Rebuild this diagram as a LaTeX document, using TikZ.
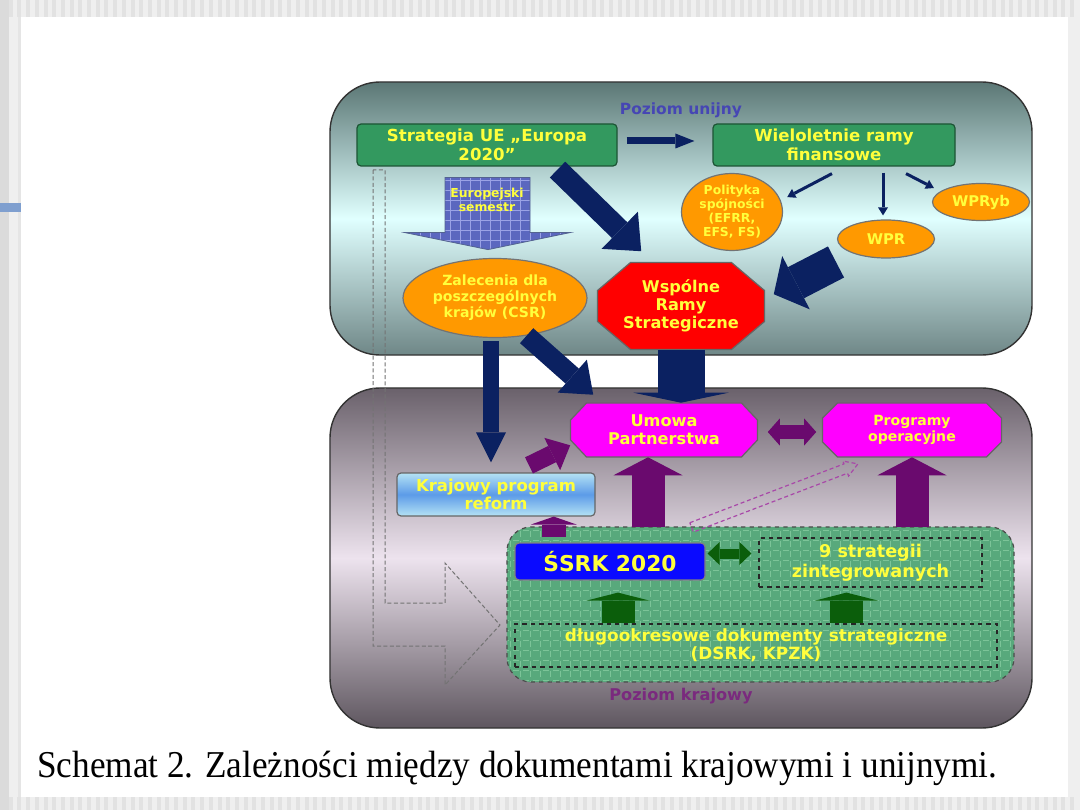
\documentclass[tikz,border=0pt]{standalone}
\usepackage{fontspec}
\setsansfont{DejaVu Sans}
\newfontfamily\capfont{Liberation Serif}
\usepackage{graphicx}
\usepackage{tikz}
\usetikzlibrary{arrows.meta,positioning,shapes.geometric,calc,patterns.meta}
\usepackage{xcolor}
\definecolor{NavyArr}{HTML}{0B2161}
\definecolor{PurpArr}{HTML}{6A0A6E}
\definecolor{PtrPurple}{HTML}{A848A8}
\definecolor{GreenArr}{HTML}{0B5E0B}
\definecolor{BoxGreen}{HTML}{33995F}
\definecolor{TxtYellow}{HTML}{FFFF3C}
\definecolor{FundOrange}{HTML}{FF9900}
\definecolor{CsfRed}{HTML}{FF0000}
\definecolor{PaMagenta}{HTML}{FF00FF}
\definecolor{SrkBlue}{HTML}{0A0AFF}
\definecolor{UniTop}{HTML}{5B7775}
\definecolor{UniMid}{HTML}{E0FFFF}
\definecolor{UniBot}{HTML}{6F8787}
\definecolor{NatTop}{HTML}{6A616B}
\definecolor{NatMid}{HTML}{EDE3EE}
\definecolor{NatBot}{HTML}{5E565F}
\definecolor{GridGreen}{HTML}{58A97C}
\definecolor{GridGreenLn}{HTML}{7CC498}
\definecolor{SemBlue}{HTML}{5B67BF}
\definecolor{SemBlueLn}{HTML}{9AA2E6}
\definecolor{KprTop}{HTML}{B4E2F4}
\definecolor{KprMid}{HTML}{5C9BE8}
\definecolor{LblBlue}{HTML}{4646B4}
\definecolor{LblPurple}{HTML}{7A2A7E}
\definecolor{PageGray}{HTML}{EFEFEF}
\definecolor{StripeGray}{HTML}{E2E2E2}
\definecolor{SideBlue}{HTML}{7F9FCF}
\newcommand{\dsz}[2]{\sffamily\bfseries\fontsize{#1}{#2}\selectfont}
% octagon round a centre: centre, half width, half height, cut x, cut y, fill
\newcommand{\octa}[6]{%
  \filldraw[fill=#6,draw=black!60,line width=0.3mm]
    ($(#1)+(-#2+#4,-#3)$) -- ($(#1)+(#2-#4,-#3)$) -- ($(#1)+(#2,-#3+#5)$)
    -- ($(#1)+(#2,#3-#5)$) -- ($(#1)+(#2-#4,#3)$) -- ($(#1)+(-#2+#4,#3)$)
    -- ($(#1)+(-#2,#3-#5)$) -- ($(#1)+(-#2,-#3+#5)$) -- cycle;}

\begin{document}
\begin{tikzpicture}[x=0.25mm,y=-0.25mm,
    every node/.style={font=\dsz{11}{13},text=TxtYellow,align=center,inner sep=0pt},
    level/.style={rectangle,rounded corners=12.5mm,draw=black!80,line width=0.35mm},
    greenbox/.style={rectangle,rounded corners=1mm,fill=BoxGreen,
                     draw=BoxGreen!55!black,line width=0.3mm},
    fund/.style={ellipse,fill=FundOrange,draw=black!55,line width=0.3mm},
    octtext/.style={rectangle,minimum width=#1},
    dashbox/.style={rectangle,draw=black!85,dashed,line width=0.3mm},
    blk/.style n args={3}{line width=#1mm,
        -{Triangle[width=#2mm,length=#3mm,line width=0pt]}},
    blkboth/.style n args={3}{line width=#1mm,
        {Triangle[width=#2mm,length=#3mm,line width=0pt]}-{Triangle[width=#2mm,length=#3mm,line width=0pt]}},
  ]
  \useasboundingbox (0,0) rectangle (1080,810);
  % page
  \fill[PageGray] (0,0) rectangle (1080,810);
  \foreach \s in {0,8.7,...,1075} {
    \fill[StripeGray] (\s,0) rectangle ++(4,17);
    \fill[StripeGray] (\s,797) rectangle ++(4,13);
  }
  \fill[black!14] (0,0) rectangle (9,810);
  \fill[black!10] (18,17) rectangle (21,797);
  \fill[white] (21,17) rectangle (1068,797);
  \fill[SideBlue] (0,203) rectangle (21,212);

  % two levels
  \node[level,top color=UniTop,bottom color=UniBot,middle color=UniMid,
        minimum width=175.5mm,minimum height=68.25mm] (unia) at (681,218.5) {};
  \node[level,top color=NatTop,bottom color=NatBot,middle color=NatMid,
        minimum width=175.5mm,minimum height=85mm] (kraj) at (681,558) {};
  \node[font=\dsz{11}{12},text=LblBlue] (lvlu) at (681,110) {Poziom unijny};
  \node[font=\dsz{11.5}{12},text=LblPurple] (lvlk) at (681,696) {Poziom krajowy};

  % dashed L outline
  \draw[black!55,dash pattern=on 1mm off 0.6mm,line width=0.25mm]
    (373,170) -- (373,646) -- (445,646) -- (445,685) -- (500,625)
    -- (445,563) -- (445,603) -- (385,603) -- (385,170) -- cycle;

  % national strategies
  \node[rectangle,rounded corners=6mm,draw=black!70,dashed,line width=0.3mm,
        preaction={fill=GridGreen},
        pattern={Hatch[angle=0,distance=2.5mm,line width=0.15mm]},
        pattern color=GridGreenLn,
        minimum width=126.75mm,minimum height=38.75mm] (nat) at (760.5,604.5) {};

  % EU level
  \node[greenbox,minimum width=65mm,minimum height=10.5mm,font=\dsz{11.8}{13.5}]
    (strat) at (487,145) {Strategia UE „Europa\\2020”};
  \node[greenbox,minimum width=60.5mm,minimum height=10.5mm,font=\dsz{11.8}{13.5}]
    (wrf) at (834,145) {Wieloletnie ramy\\finansowe};
  \node[fund,minimum width=25.25mm,minimum height=19.25mm,font=\dsz{8.8}{10}]
    (pol) at (732,212) {Polityka\\spójności\\(EFRR,\\EFS, FS)};
  \node[fund,minimum width=24.25mm,minimum height=9.5mm,font=\dsz{10.5}{12}]
    (wpr) at (886,239) {WPR};
  \node[fund,minimum width=24.25mm,minimum height=9.25mm,font=\dsz{10.5}{12}]
    (wpryb) at (981,202) {WPRyb};
  \node[fund,minimum width=46mm,minimum height=19.75mm,font=\dsz{10}{11.5}]
    (zal) at (495,298) {Zalecenia dla\\poszczególnych\\krajów (CSR)};
  \coordinate (wrsc) at (681,306);
  \octa{wrsc}{83.5}{43.5}{33}{28}{CsfRed}
  \node[octtext=41.75mm,minimum height=21.75mm,font=\dsz{11.5}{13}]
    (wrs) at (wrsc) {Wspólne\\Ramy\\Strategiczne};

  % Europejski semestr
  \coordinate (semtop) at ($(strat.south)+(0,11)$);
  \begin{scope}[shift={(semtop)}]
    \filldraw[draw=NavyArr!70,line width=0.2mm,preaction={fill=SemBlue},
              pattern={Hatch[angle=0,distance=2.5mm,line width=0.15mm]},
              pattern color=SemBlueLn]
      (-42,0) -- (43,0) -- (43,55) -- (83,55) -- (1,72) -- (-82,55) -- (-42,55) -- cycle;
    \node[font=\dsz{8.8}{10}] (sem) at (0,22) {Europejski\\semestr};
  \end{scope}

  % national level
  \coordinate (umowac) at (664,430);
  \octa{umowac}{93.5}{27}{16}{17}{PaMagenta}
  \node[octtext=46.75mm,minimum height=13.5mm,font=\dsz{11.5}{13}]
    (umowa) at (umowac) {Umowa\\Partnerstwa};
  \coordinate (progc) at (912,430);
  \octa{progc}{89.5}{27}{15}{15}{PaMagenta}
  \node[octtext=44.75mm,minimum height=13.5mm,font=\dsz{10}{11}]
    (prog) at (progc) {Programy\\operacyjne};
  \node[rectangle,rounded corners=1mm,draw=black!60,line width=0.3mm,
        top color=KprTop,bottom color=KprTop,middle color=KprMid,
        minimum width=49.5mm,minimum height=10.75mm,font=\dsz{11.7}{13}]
    (kpr) at (496,494.5) {Krajowy program\\reform};
  \node[rectangle,rounded corners=1mm,fill=SrkBlue,draw=black!50,line width=0.3mm,
        minimum width=47.5mm,minimum height=9.25mm,font=\dsz{15.5}{17}]
    (srk) at (610,561.5) {ŚSRK 2020};
  \node[dashbox,minimum width=55.75mm,minimum height=12.25mm,font=\dsz{12.5}{14}]
    (s9) at (870.5,562.5) {9 strategii\\zintegrowanych};
  \node[dashbox,minimum width=120.5mm,minimum height=10.75mm,font=\dsz{12}{13}]
    (dlug) at (756,645.5) {długookresowe dokumenty strategiczne\\(DSRK, KPZK)};

  % dashed pointer to Programy
  \coordinate (ptrtail) at ($(srk.north east)+(-14,-15)$);
  \begin{scope}[shift={(ptrtail)},rotate=20.9]
    \draw[PtrPurple,dash pattern=on 1mm off 0.7mm,line width=0.3mm]
      (0,-5) -- (165,-5) -- (165,-8) -- (178,0) -- (165,8) -- (165,5) -- (0,5) -- cycle;
  \end{scope}

  % navy arrows
  \draw[NavyArr,blk={1.75}{3.75}{4.75}] ($(strat.east)+(9,-4)$) -- ($(wrf.west)+(-18,-4)$);
  \draw[NavyArr,blk={5.5}{13}{7.5}]
    ($(strat.south east)!0.23!(strat.south west)+(0,3)$) -- ($(wrs.north west)+(44,-11)$);
  \draw[NavyArr,line width=0.75mm,-{Triangle[width=2.5mm,length=2mm,line width=0pt]}]
    ($(wrf.south)+(-2,7)$) -- ($(pol.15)+(7,-2)$);
  \draw[NavyArr,line width=0.75mm,-{Triangle[width=2.5mm,length=2mm,line width=0pt]}]
    ($(wrf.south)+(49,6)$) -- ($(wpr.north)+(-3,-4)$);
  \draw[NavyArr,line width=0.75mm,-{Triangle[width=2.5mm,length=2mm,line width=0pt]}]
    ($(wrf.south)+(72,7)$) -- ($(wpryb.west)+(2,-14)$);
  \coordinate (fundsout) at (836,262);
  \draw[NavyArr,blk={8.75}{15}{6.25}] (fundsout) -- ($(wrs.north east)+(9,32)$);
  \draw[NavyArr,blk={4}{7.5}{7.5}] ($(zal.south)+(-4,3)$) -- ($(kpr.north)+(-5,-10)$);
  \draw[NavyArr,blk={5}{11}{7}] (zal.-50) -- ($(umowa.north west)+(23,-8)$);
  \draw[NavyArr,blk={11.75}{23.75}{2.5}] (wrs.south) -- (wrs.south |- umowa.north);

  % purple arrows
  \draw[PurpArr,blkboth={3.25}{6.75}{3}] ($(umowa.east)+(10,2)$) -- ($(prog.west)+(-6,2)$);
  \draw[PurpArr,blk={4.5}{9}{5}] ($(kpr.north)+(33,-7)$) -- ($(umowa.south west)+(0,-12)$);
  \coordinate (kprin) at ($(kpr.south west)!0.79!(kpr.south east)$);
  \draw[PurpArr,blk={6}{11.5}{2},shorten <=1.25mm] (kprin |- srk.north) -- (kprin);
  \coordinate (pain) at ($(umowa.south)+(-16,0)$);
  \draw[PurpArr,blk={8.25}{17.25}{4.5}] (pain |- nat.north) -- (pain);
  \draw[PurpArr,blk={8.25}{17.25}{4.5}] (prog.south |- nat.north) -- (prog.south);

  % green arrows
  \draw[GreenArr,blkboth={2.5}{5.75}{3}] ($(srk.east)+(2,-8)$) -- ($(s9.west)+(-7,-9)$);
  \coordinate (srkin) at ($(srk.south)+(8,0)$);
  \draw[GreenArr,blk={8.25}{15.75}{2}] (srkin |- dlug.north) -- ($(srkin)+(0,12)$);
  \coordinate (s9in) at ($(s9.south)+(-24,0)$);
  \draw[GreenArr,blk={8.25}{15.75}{2}] (s9in |- dlug.north) -- ($(s9in)+(0,5)$);

  % caption
  \node[anchor=base west,text=black,font=\capfont\fontsize{27}{30}\selectfont]
    (capt) at (37,777)
    {\resizebox{24cm}{\height}{Schemat 2. Zależności między dokumentami krajowymi i unijnymi.}};
\end{tikzpicture}
\end{document}
